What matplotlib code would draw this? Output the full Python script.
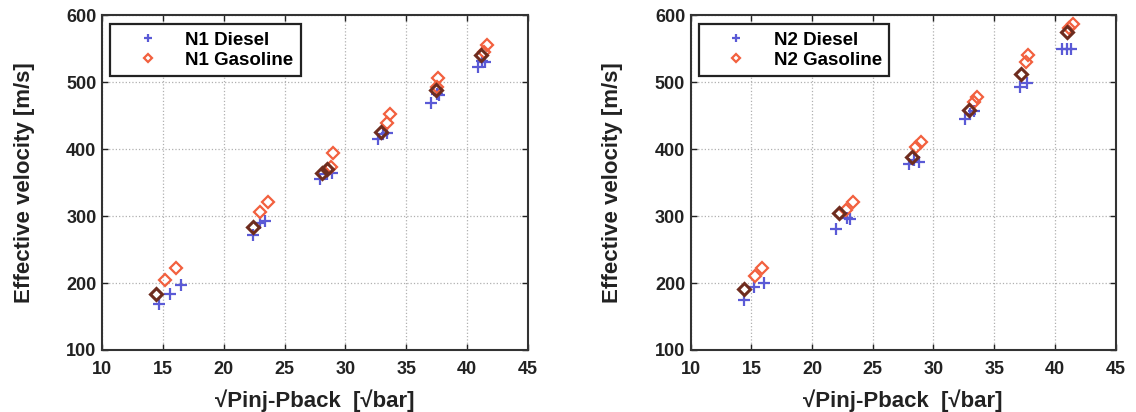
import matplotlib
matplotlib.use('Agg')
import matplotlib.pyplot as plt

plt.rcParams['font.family'] = ['Liberation Sans', 'DejaVu Sans']
plt.rcParams['font.weight'] = 'bold'

xticks = [10, 15, 20, 25, 30, 35, 40, 45]
yticks = [100, 200, 300, 400, 500, 600]

# N1 nozzle
n1_diesel_x = [14.7, 15.6, 16.5, 22.4, 23.0, 23.4, 27.95, 28.5, 28.9, 32.7, 33.1, 33.4, 37.0, 37.5, 37.7, 40.9, 41.2, 41.5]
n1_diesel_y = [169, 184, 197, 272, 289, 292, 355, 362, 364, 415, 423, 424, 469, 482, 480, 522, 532, 530]
n1_gas_x = [15.2, 16.1, 23.0, 23.6, 28.8, 29.0, 33.4, 33.7, 37.5, 37.6, 41.4, 41.6]
n1_gas_y = [204, 222, 306, 321, 373, 394, 439, 452, 492, 506, 545, 555]
n1_gas_first_x = [14.4, 22.4, 28.1, 28.5, 32.9, 37.4, 41.1]
n1_gas_first_y = [184, 284, 364, 370, 425, 488, 540]

# N2 nozzle
n2_diesel_x = [14.4, 15.2, 16.0, 22.0, 22.9, 23.1, 28.0, 28.4, 28.8, 32.6, 33.0, 33.3, 37.1, 37.7, 40.6, 41.0, 41.3]
n2_diesel_y = [174, 194, 200, 281, 297, 295, 378, 383, 381, 445, 452, 457, 492, 498, 549, 549, 549]
n2_gas_x = [15.3, 15.9, 22.8, 23.4, 28.6, 29.0, 33.3, 33.6, 37.6, 37.8, 41.2, 41.5]
n2_gas_y = [210, 222, 309, 321, 403, 410, 470, 478, 530, 540, 580, 587]
n2_gas_first_x = [14.4, 22.2, 28.2, 32.9, 37.2, 41.0]
n2_gas_first_y = [191, 305, 388, 458, 512, 575]

blue = '#5a5ad6'
red = '#f2603e'
dark = '#6e2c1e'

fig = plt.figure(figsize=(11.36, 4.12), dpi=100)
ax1 = fig.add_axes([0.0898, 0.1505, 0.375, 0.813])
ax2 = fig.add_axes([0.608, 0.1505, 0.374, 0.813])

panels = [
    (ax1, 'N1', n1_diesel_x, n1_diesel_y, n1_gas_x, n1_gas_y, n1_gas_first_x, n1_gas_first_y),
    (ax2, 'N2', n2_diesel_x, n2_diesel_y, n2_gas_x, n2_gas_y, n2_gas_first_x, n2_gas_first_y),
]

for ax, name, dx, dy, gx, gy, fx, fy in panels:
    ax.plot(dx, dy, '+', color=blue, ms=8, mew=1.6, label=name + ' Diesel')
    ax.plot(gx, gy, 'D', color=red, mfc='none', ms=6, mew=1.6, label=name + ' Gasoline')
    ax.plot(fx, fy, 'D', color=dark, mfc='none', ms=6, mew=2.2)
    ax.set_xlim(10, 45)
    ax.set_ylim(100, 600)
    ax.set_xticks(xticks)
    ax.set_yticks(yticks)
    ax.grid(True, linestyle=':', color='#b0b0b0', linewidth=0.9)
    ax.tick_params(direction='in', top=True, right=True, length=4, width=1,
                   labelsize=13, colors='#222222')
    ax.tick_params(axis='x', pad=8)
    ax.tick_params(axis='y', pad=4)
    for s in ax.spines.values():
        s.set_linewidth(1.5)
        s.set_color('#333333')
    ax.set_xlabel('\u221aPinj-Pback  [\u221abar]', fontsize=16, fontweight='bold', color='#222222')
    ax.set_ylabel('Effective velocity [m/s]', fontsize=16, fontweight='bold', color='#222222')
    ax.xaxis.set_label_coords(0.5, -0.152)
    ax.xaxis.label.set_va('center')
    ax.yaxis.set_label_coords(-0.183, 0.5)
    ax.yaxis.label.set_va('center')
    leg = ax.legend(loc='upper left', bbox_to_anchor=(0.019, 0.973), borderaxespad=0,
                    fancybox=False, prop={'weight': 'bold', 'size': 13.5},
                    handlelength=3.2, handletextpad=0.4, markerscale=0.75,
                    borderpad=0.4, labelspacing=0.15, framealpha=1)
    leg.get_frame().set_edgecolor('#222222')
    leg.get_frame().set_linewidth(1.6)

fig.savefig('out.png', dpi=100)
